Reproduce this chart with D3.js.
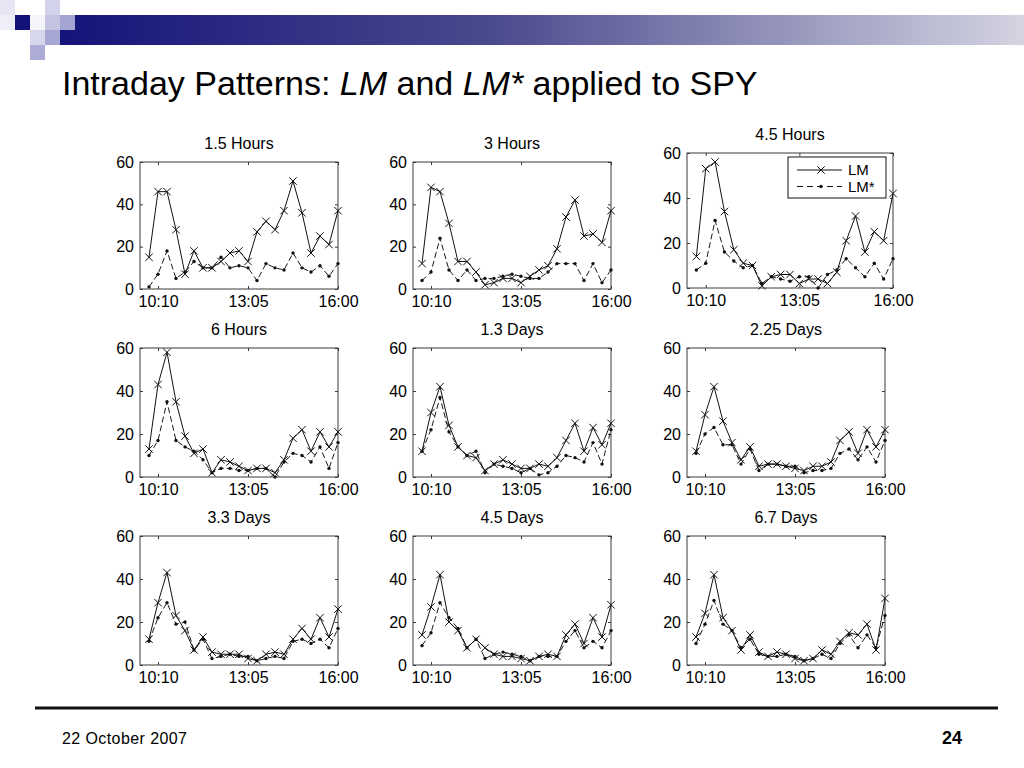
<!DOCTYPE html>
<html>
<head>
<meta charset="utf-8">
<script src="https://cdn.jsdelivr.net/npm/d3@7"></script>
<style>
  body { margin: 0; background: #fff; }
  svg { display: block; font-family: "Liberation Sans", Arial, sans-serif; }
</style>
</head>
<body>
<div id="slide"></div>
<script>
// 1: DATA
const panelTitles = ["1.5 Hours", "3 Hours", "4.5 Hours", "6 Hours", "1.3 Days", "2.25 Days", "3.3 Days", "4.5 Days", "6.7 Days"];
const xTickLabels = ["10:10", "13:05", "16:00"];
const xTickIndex = [1, 11, 21];
const yTicks = [0, 20, 40, 60];
const legendLabels = ["LM", "LM*"];

const lm_1_5h   = [15, 46, 46, 28, 7, 18, 10, 10, 13, 17, 18, 13, 27, 32, 28, 37, 51, 36, 17, 25, 21, 37];
const lms_1_5h  = [1, 7, 18, 5, 8, 13, 10, 10, 15, 10, 11, 10, 4, 12, 10, 9, 17, 10, 8, 11, 6, 12];
const lm_3h     = [12, 48, 46, 31, 13, 13, 8, 2, 3, 5, 5, 3, 6, 9, 11, 19, 34, 42, 25, 26, 22, 37];
const lms_3h    = [4, 8, 24, 9, 4, 9, 4, 5, 5, 6, 7, 6, 5, 5, 8, 12, 12, 12, 4, 12, 3, 9];
const lm_4_5h   = [14, 53, 56, 34, 17, 11, 10, 1, 5, 6, 6, 2, 4, 4, 2, 7, 21, 32, 16, 25, 21, 42];
const lms_4_5h  = [8, 11, 30, 16, 12, 9, 10, 2, 5, 4, 3, 5, 5, 0, 6, 8, 13, 9, 5, 11, 4, 13];
const lm_6h     = [13, 43, 58, 35, 19, 11, 13, 2, 8, 7, 5, 3, 4, 4, 2, 8, 18, 22, 12, 21, 14, 21];
const lms_6h    = [10, 17, 35, 17, 14, 12, 8, 2, 4, 4, 3, 3, 4, 4, 0, 7, 11, 10, 7, 14, 4, 16];
const lm_1_3d   = [12, 30, 42, 24, 14, 10, 9, 3, 6, 8, 6, 4, 4, 6, 5, 9, 17, 25, 12, 23, 15, 25];
const lms_1_3d  = [12, 22, 37, 21, 14, 10, 12, 2, 6, 5, 4, 2, 4, 1, 2, 5, 10, 9, 7, 16, 6, 22];
const lm_2_25d  = [12, 29, 42, 26, 16, 8, 14, 5, 6, 6, 5, 4, 3, 5, 5, 7, 17, 21, 11, 22, 14, 22];
const lms_2_25d = [11, 20, 23, 15, 15, 6, 13, 3, 6, 6, 5, 5, 2, 3, 3, 4, 11, 13, 8, 14, 7, 17];
const lm_3_3d   = [12, 29, 43, 23, 16, 7, 13, 6, 5, 5, 5, 3, 2, 5, 6, 5, 12, 17, 12, 22, 13, 26];
const lms_3_3d  = [11, 22, 29, 19, 20, 7, 12, 3, 4, 5, 4, 4, 2, 3, 4, 3, 11, 12, 10, 12, 8, 17];
const lm_4_5d   = [14, 27, 42, 20, 16, 8, 12, 8, 5, 4, 4, 3, 2, 4, 5, 4, 14, 19, 10, 22, 13, 28];
const lms_4_5d  = [9, 15, 29, 22, 17, 8, 12, 3, 5, 6, 5, 4, 2, 4, 4, 4, 11, 16, 8, 11, 8, 16];
const lm_6_7d   = [13, 24, 42, 22, 16, 7, 14, 6, 4, 6, 5, 3, 2, 3, 7, 5, 11, 15, 14, 19, 7, 31];
const lms_6_7d  = [10, 19, 30, 19, 16, 8, 12, 5, 4, 4, 5, 4, 2, 3, 5, 3, 10, 14, 8, 14, 8, 23];

const lmSeries  = [lm_1_5h, lm_3h, lm_4_5h, lm_6h, lm_1_3d, lm_2_25d, lm_3_3d, lm_4_5d, lm_6_7d];
const lmsSeries = [lms_1_5h, lms_3h, lms_4_5h, lms_6h, lms_1_3d, lms_2_25d, lms_3_3d, lms_4_5d, lms_6_7d];

// 2: LAYOUT (pixel boxes of each small plot frame)
const boxes = [
  { l: 140, r: 338, t: 162, b: 289 },
  { l: 413, r: 611, t: 162, b: 289 },
  { l: 687, r: 893, t: 153, b: 288 },
  { l: 140, r: 338, t: 348, b: 477 },
  { l: 413, r: 611, t: 348, b: 477 },
  { l: 687, r: 885, t: 348, b: 477 },
  { l: 140, r: 338, t: 536, b: 665 },
  { l: 413, r: 611, t: 536, b: 665 },
  { l: 687, r: 885, t: 536, b: 665 }
];

const svg = d3.select("#slide")
  .append("svg")
  .attr("width", 1024)
  .attr("height", 768);

// Header decoration: gradient bar and squares
const defs = svg.append("defs");
const grad = defs.append("linearGradient").attr("id", "barGrad");
grad.append("stop").attr("offset", "0%").attr("stop-color", "#14147a");
grad.append("stop").attr("offset", "45%").attr("stop-color", "#4a4a8e");
grad.append("stop").attr("offset", "100%").attr("stop-color", "#d4d4e2");

svg.append("rect")
  .attr("x", 60).attr("y", 15).attr("width", 964).attr("height", 30)
  .attr("fill", "url(#barGrad)");

const squares = [
  [0, 0, "#e6e6f4"], [45, 0, "#d2d2ea"],
  [0, 15, "#eeeef8"], [15, 15, "#12127a"], [30, 15, "#f4f4fa"], [45, 15, "#c4c4e2"], [60, 15, "#a4a4d2"],
  [30, 30, "#d6d6ec"], [45, 30, "#a6a6d4"],
  [30, 45, "#acacd6"]
];
svg.selectAll("rect.sq")
  .data(squares)
  .enter()
  .append("rect")
  .attr("class", "sq")
  .attr("x", d => d[0]).attr("y", d => d[1])
  .attr("width", 15).attr("height", 15)
  .attr("fill", d => d[2]);

// Slide title
const title = svg.append("text")
  .attr("x", 62)
  .attr("y", 95)
  .style("font-size", "34px")
  .attr("fill", "#000");
title.append("tspan").text("Intraday Patterns: ");
title.append("tspan").style("font-style", "italic").text("LM");
title.append("tspan").text(" and ");
title.append("tspan").style("font-style", "italic").text("LM*");
title.append("tspan").text(" applied to SPY");

// Footer
svg.append("line")
  .attr("x1", 35).attr("x2", 998)
  .attr("y1", 708).attr("y2", 708)
  .attr("stroke", "#111").attr("stroke-width", 3);

svg.append("text")
  .attr("x", 62).attr("y", 744)
  .style("font-size", "16px")
  .attr("textLength", 125)
  .text("22 October 2007");

svg.append("text")
  .attr("x", 962).attr("y", 744)
  .attr("text-anchor", "end")
  .style("font-size", "18px")
  .style("font-weight", "bold")
  .text("24");

// 3: SMALL MULTIPLES
const xMark = d3.symbol(d3.symbolTimes, 38);

function drawPanel(i) {
  const box = boxes[i];
  const g = svg.append("g").attr("class", "panel");

  const xScale = d3.scaleLinear().domain([-1, 21]).range([box.l, box.r]);
  const yScale = d3.scaleLinear().domain([0, 60]).range([box.b, box.t]);

  const line = d3.line()
    .x((d, j) => xScale(j))
    .y(d => yScale(d));

  // frame
  g.append("rect")
    .attr("x", box.l).attr("y", box.t)
    .attr("width", box.r - box.l).attr("height", box.b - box.t)
    .attr("fill", "#fff")
    .attr("stroke", "#3a3a3a")
    .attr("stroke-width", 1);

  // axes with inward ticks
  const axisStyle = sel => {
    sel.select(".domain").remove();
    sel.selectAll("line").attr("stroke", "#3a3a3a");
    sel.selectAll("text").style("font-size", "16px").attr("fill", "#000")
      .style("font-family", "'Liberation Sans', Arial, sans-serif");
  };

  g.append("g")
    .attr("transform", `translate(${box.l},0)`)
    .call(d3.axisLeft(yScale).tickValues(yTicks).tickSize(-3).tickPadding(6))
    .call(axisStyle);

  g.append("g")
    .attr("transform", `translate(${box.r},0)`)
    .call(d3.axisRight(yScale).tickValues(yTicks).tickSize(-3).tickFormat(""))
    .call(axisStyle);

  g.append("g")
    .attr("transform", `translate(0,${box.b})`)
    .call(d3.axisBottom(xScale).tickValues(xTickIndex).tickSize(-3).tickPadding(7)
      .tickFormat((d, k) => xTickLabels[k]))
    .call(axisStyle);

  g.append("g")
    .attr("transform", `translate(0,${box.t})`)
    .call(d3.axisTop(xScale).tickValues(xTickIndex).tickSize(-3).tickFormat(""))
    .call(axisStyle);

  // panel title
  g.append("text")
    .attr("x", (box.l + box.r) / 2)
    .attr("y", box.t - 13)
    .attr("text-anchor", "middle")
    .style("font-size", "16px")
    .text(panelTitles[i]);

  // LM* dashed line with dots
  g.append("path")
    .attr("d", line(lmsSeries[i]))
    .attr("fill", "none")
    .attr("stroke", "#1a1a1a")
    .attr("stroke-width", 1)
    .attr("stroke-dasharray", "6,3");

  g.selectAll("circle.lms")
    .data(lmsSeries[i])
    .enter()
    .append("circle")
    .attr("class", "lms")
    .attr("cx", (d, j) => xScale(j))
    .attr("cy", d => yScale(d))
    .attr("r", 1.7)
    .attr("fill", "#111");

  // LM solid line with x markers
  g.append("path")
    .attr("d", line(lmSeries[i]))
    .attr("fill", "none")
    .attr("stroke", "#111")
    .attr("stroke-width", 1);

  g.selectAll("path.lm")
    .data(lmSeries[i])
    .enter()
    .append("path")
    .attr("class", "lm")
    .attr("transform", (d, j) => `translate(${xScale(j)},${yScale(d)})`)
    .attr("d", xMark)
    .attr("fill", "none")
    .attr("stroke", "#111")
    .attr("stroke-width", 1);

  return g;
}

const panels = d3.range(9).map(drawPanel);

// Legend inside the 4.5 Hours panel
const lb = boxes[2];
const legend = panels[2].append("g")
  .attr("transform", `translate(${lb.r - 105},${lb.t + 4})`);

legend.append("rect")
  .attr("width", 98).attr("height", 41)
  .attr("fill", "#fff")
  .attr("stroke", "#111")
  .attr("stroke-width", 1);

const rows = legend.selectAll("g.row")
  .data(legendLabels)
  .enter()
  .append("g")
  .attr("class", "row")
  .attr("transform", (d, k) => `translate(0,${13 + k * 16.5})`);

rows.append("line")
  .attr("x1", 9).attr("x2", 54)
  .attr("stroke", "#111")
  .attr("stroke-dasharray", (d, k) => k === 1 ? "6,4" : null);

rows.filter((d, k) => k === 0).append("path")
  .attr("transform", "translate(33,0)")
  .attr("d", xMark)
  .attr("fill", "none")
  .attr("stroke", "#111");

rows.filter((d, k) => k === 1).append("circle")
  .attr("cx", 33).attr("r", 1.7).attr("fill", "#111");

rows.append("text")
  .attr("x", 60).attr("y", 5)
  .style("font-size", "15px")
  .text(d => d);
</script>
</body>
</html>
